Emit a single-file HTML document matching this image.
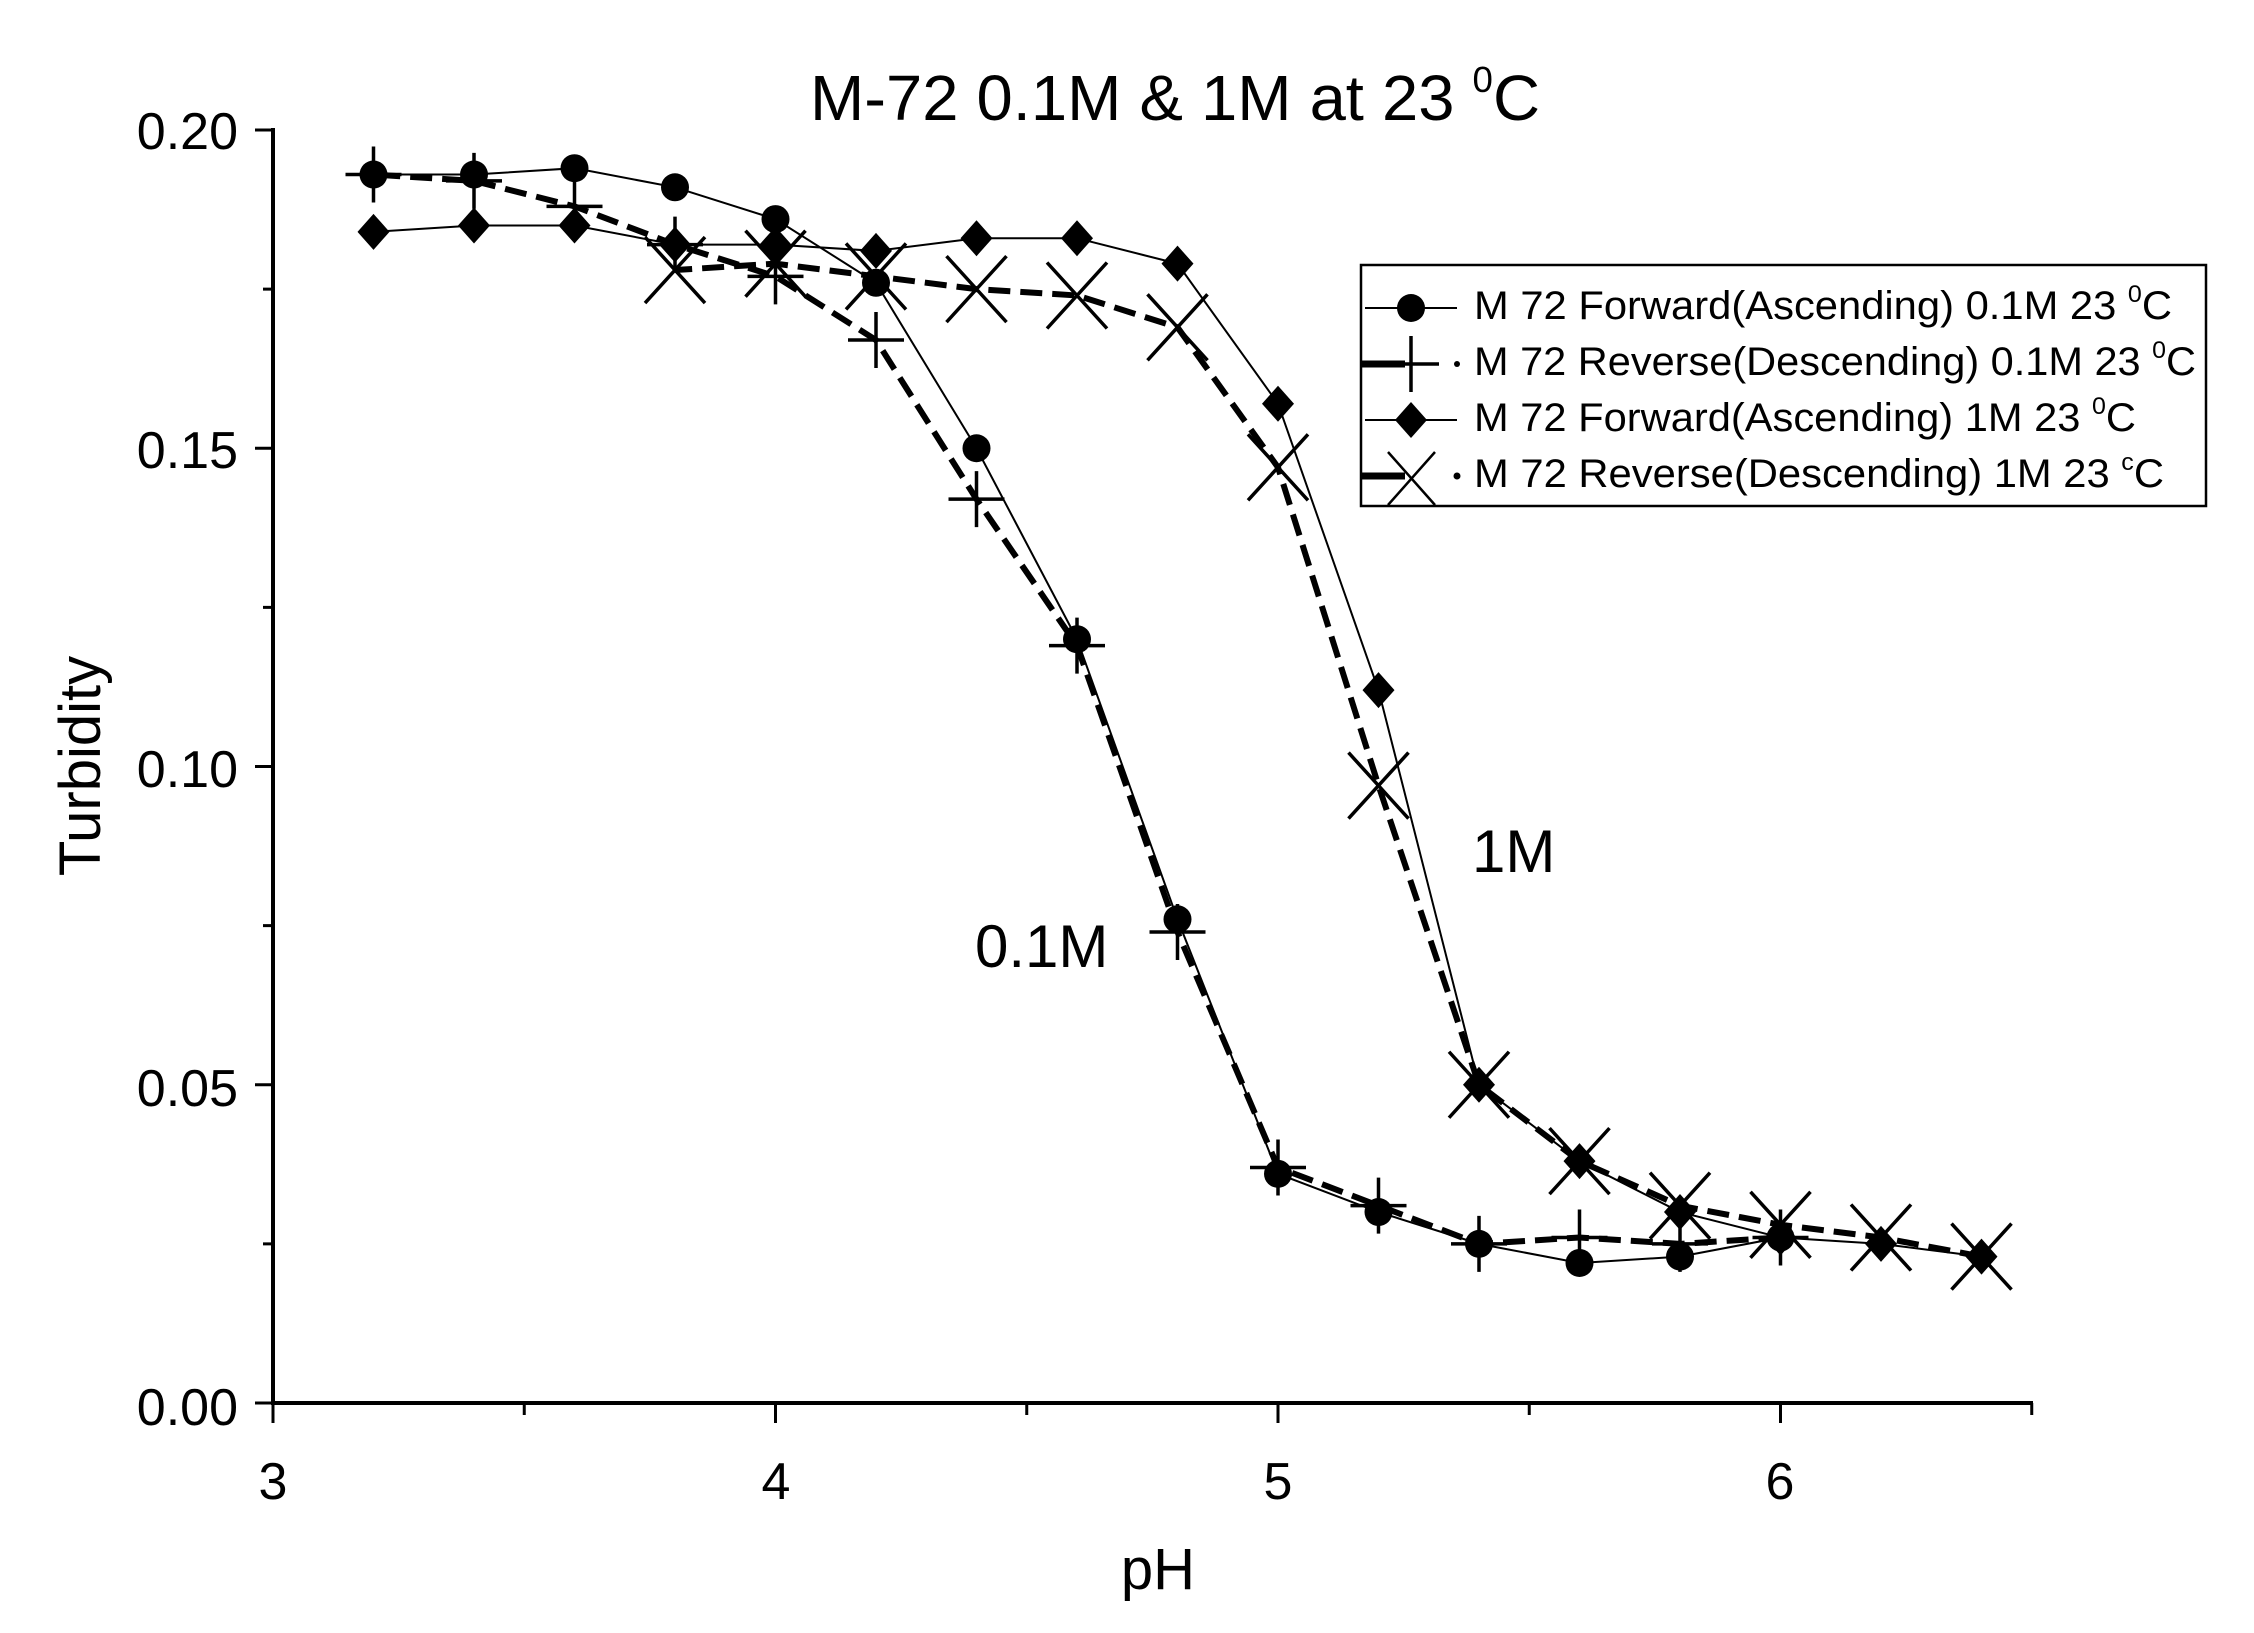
<!DOCTYPE html>
<html><head><meta charset="utf-8"><style>
html,body{margin:0;padding:0;background:#fff;}
svg{display:block;font-family:"Liberation Sans",Arial,sans-serif;}
</style></head><body>
<svg id="s" width="2254" height="1633" viewBox="0 0 2254 1633" xmlns="http://www.w3.org/2000/svg">
<rect width="2254" height="1633" fill="#fff"/>
<text x="1175" y="120" font-size="64" text-anchor="middle" textLength="730" lengthAdjust="spacingAndGlyphs">M-72 0.1M &amp; 1M at 23 <tspan font-size="36" dy="-28">0</tspan><tspan dy="28">C</tspan></text>
<g font-size="52" text-anchor="end">
<text x="238" y="149">0.20</text><text x="238" y="468">0.15</text><text x="238" y="787">0.10</text><text x="238" y="1106">0.05</text><text x="238" y="1425">0.00</text>
</g>
<g font-size="52" text-anchor="middle">
<text x="273" y="1499">3</text><text x="776" y="1499">4</text><text x="1278" y="1499">5</text><text x="1780" y="1499">6</text>
</g>
<text x="1158" y="1589" font-size="58" text-anchor="middle">pH</text>
<text transform="translate(100,766) rotate(-90)" font-size="58" text-anchor="middle">Turbidity</text>
<text x="975" y="967" font-size="60">0.1M</text>
<text x="1472" y="872" font-size="60">1M</text>
<g id="plot"></g>
<rect x="1361" y="265" width="845" height="241" fill="#fff" stroke="#000" stroke-width="2.5"/>
<g font-size="40">
<text x="1474" y="319" textLength="698" lengthAdjust="spacingAndGlyphs">M 72 Forward(Ascending) 0.1M 23 <tspan font-size="24" dy="-17">0</tspan><tspan dy="17">C</tspan></text>
<text x="1474" y="375" textLength="722" lengthAdjust="spacingAndGlyphs">M 72 Reverse(Descending) 0.1M 23 <tspan font-size="24" dy="-17">0</tspan><tspan dy="17">C</tspan></text>
<text x="1474" y="431" textLength="662" lengthAdjust="spacingAndGlyphs">M 72 Forward(Ascending) 1M 23 <tspan font-size="24" dy="-17">0</tspan><tspan dy="17">C</tspan></text>
<text x="1474" y="487" textLength="690" lengthAdjust="spacingAndGlyphs">M 72 Reverse(Descending) 1M 23 <tspan font-size="24" dy="-17">c</tspan><tspan dy="17">C</tspan></text>
</g>
<g id="leg"></g>
</svg>
<script>
var NS="http://www.w3.org/2000/svg";
function X(p){return 273+(p-3)*502.5;}
function Y(v){return 1403-v*6365;}
function el(par,t,a){var e=document.createElementNS(NS,t);for(var k in a)e.setAttribute(k,a[k]);par.appendChild(e);return e;}
var g=document.getElementById('plot'),L=document.getElementById('leg');
el(g,'line',{x1:273,y1:128,x2:273,y2:1405,stroke:'#000','stroke-width':4});
el(g,'line',{x1:271,y1:1403,x2:2033,y2:1403,stroke:'#000','stroke-width':4});
[0,0.05,0.10,0.15,0.20].forEach(function(v){el(g,'line',{x1:255,y1:Y(v),x2:273,y2:Y(v),stroke:'#000','stroke-width':3});});
[0.025,0.075,0.125,0.175].forEach(function(v){el(g,'line',{x1:263,y1:Y(v),x2:273,y2:Y(v),stroke:'#000','stroke-width':3});});
[3,4,5,6].forEach(function(p){el(g,'line',{x1:X(p),y1:1403,x2:X(p),y2:1423,stroke:'#000','stroke-width':3});});
[3.5,4.5,5.5,6.5].forEach(function(p){el(g,'line',{x1:X(p),y1:1403,x2:X(p),y2:1415,stroke:'#000','stroke-width':3});});
var f01=[[3.2,.193],[3.4,.193],[3.6,.194],[3.8,.191],[4.0,.186],[4.2,.176],[4.4,.150],[4.6,.120],[4.8,.076],[5.0,.036],[5.2,.030],[5.4,.025],[5.6,.022],[5.8,.023],[6.0,.026]];
var r01=[[6.0,.026],[5.8,.025],[5.6,.026],[5.4,.025],[5.2,.031],[5.0,.037],[4.8,.074],[4.6,.119],[4.4,.142],[4.2,.167],[4.0,.177],[3.8,.182],[3.6,.188],[3.4,.192],[3.2,.193]];
var f1=[[3.2,.184],[3.4,.185],[3.6,.185],[3.8,.182],[4.0,.182],[4.2,.181],[4.4,.183],[4.6,.183],[4.8,.179],[5.0,.157],[5.2,.112],[5.4,.050],[5.6,.038],[5.8,.030],[6.0,.026],[6.2,.025],[6.4,.023]];
var r1=[[6.4,.023],[6.2,.026],[6.0,.028],[5.8,.031],[5.6,.038],[5.4,.050],[5.2,.097],[5.0,.147],[4.8,.169],[4.6,.174],[4.4,.175],[4.2,.177],[4.0,.179],[3.8,.178]];
function line(d,w,dash){el(g,'polyline',{points:d.map(function(p){return X(p[0])+','+Y(p[1]);}).join(' '),fill:'none',stroke:'#000','stroke-width':w,'stroke-dasharray':dash||'none'});}
line(f01,2);line(f1,2);line(r01,6,'22,10');line(r1,6,'22,10');
function circ(p,x,y){el(p,'circle',{cx:x,cy:y,r:14,fill:'#000'});}
function dia(p,x,y){el(p,'polygon',{points:(x)+','+(y-18)+' '+(x+16)+','+y+' '+x+','+(y+18)+' '+(x-16)+','+y,fill:'#000'});}
function plus(p,x,y){el(p,'path',{d:'M'+(x-28)+' '+y+'H'+(x+28)+'M'+x+' '+(y-28)+'V'+(y+28),stroke:'#000','stroke-width':3.5});}
function cross(p,x,y){el(p,'path',{d:'M'+(x-30)+' '+(y-33)+'L'+(x+30)+' '+(y+33)+'M'+(x+30)+' '+(y-33)+'L'+(x-30)+' '+(y+33),stroke:'#000','stroke-width':3.5});}
f01.forEach(function(p){circ(g,X(p[0]),Y(p[1]));});
f1.forEach(function(p){dia(g,X(p[0]),Y(p[1]));});
r01.forEach(function(p){plus(g,X(p[0]),Y(p[1]));});
r1.forEach(function(p){cross(g,X(p[0]),Y(p[1]));});
el(L,'line',{x1:1365,y1:308,x2:1457,y2:308,stroke:'#000','stroke-width':2});circ(L,1411,308);
el(L,'line',{x1:1362,y1:364,x2:1405,y2:364,stroke:'#000','stroke-width':7});el(L,'line',{x1:1405,y1:364,x2:1432,y2:364,stroke:'#000','stroke-width':2});plus(L,1411,364);el(L,'circle',{cx:1457,cy:364,r:3,fill:'#000'});
el(L,'line',{x1:1365,y1:420,x2:1457,y2:420,stroke:'#000','stroke-width':2});dia(L,1411,420);
el(L,'line',{x1:1362,y1:476,x2:1405,y2:476,stroke:'#000','stroke-width':7});
el(L,'path',{d:'M1388 452L1435 505M1435 452L1388 505',stroke:'#000','stroke-width':2.5});el(L,'circle',{cx:1457,cy:476,r:3.5,fill:'#000'});
</script>
</body></html>
